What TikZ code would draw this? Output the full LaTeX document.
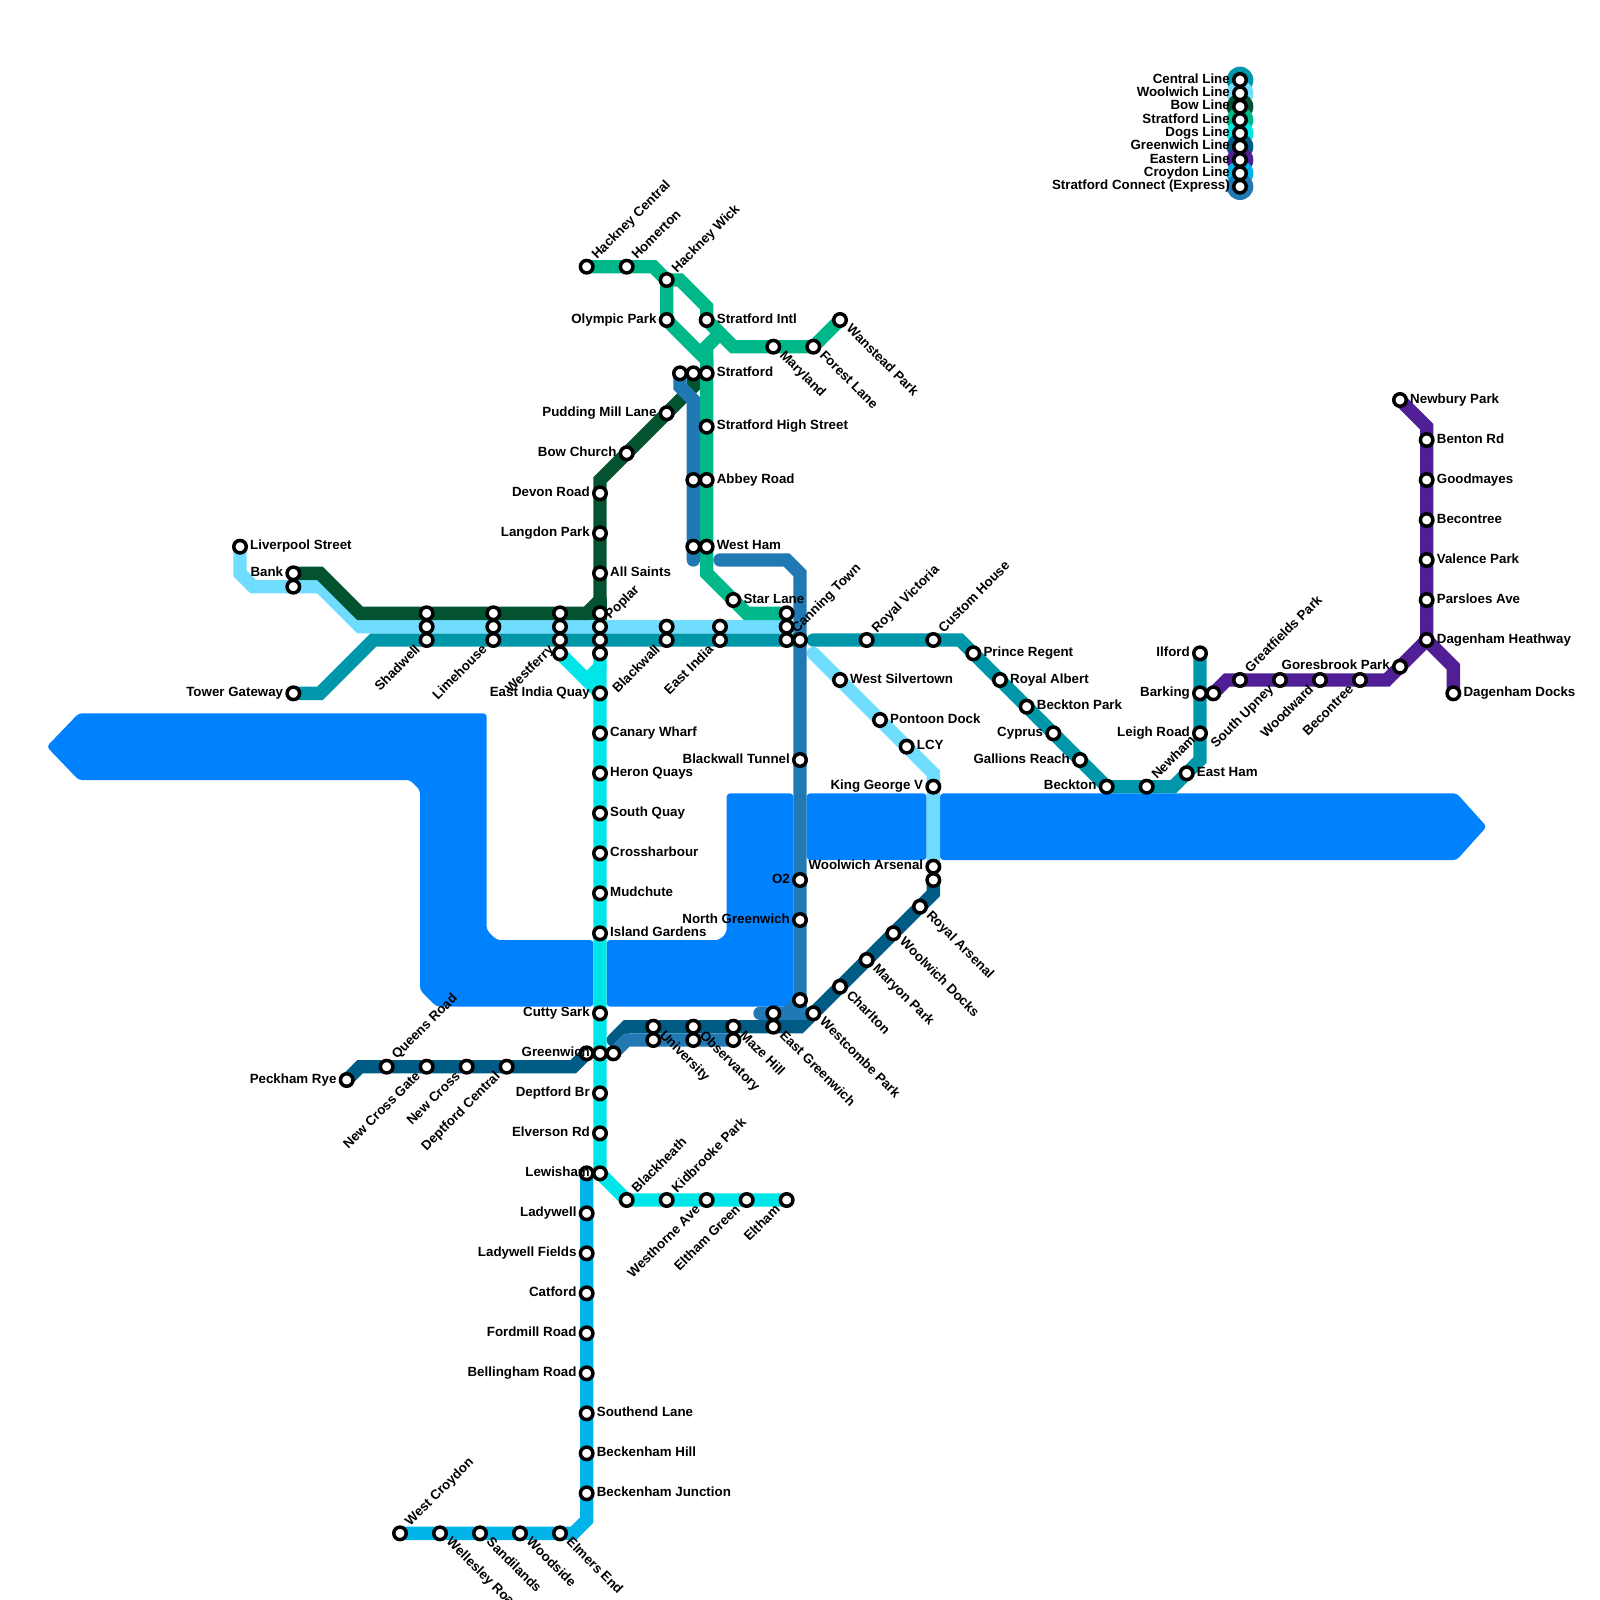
\documentclass[tikz,border=0pt]{standalone}
\usepackage{fontspec}
\setmainfont{Liberation Sans}
\pgfdeclarelayer{lines}
\pgfdeclarelayer{labels}
\pgfsetlayers{lines,main,labels}
\definecolor{MapRiver}{HTML}{0082FF}
\definecolor{MapCentral}{HTML}{0097AB}
\definecolor{MapWoolwich}{HTML}{70DDFF}
\definecolor{MapBow}{HTML}{035331}
\definecolor{MapStratford}{HTML}{00B88A}
\definecolor{MapDogs}{HTML}{00E6E8}
\definecolor{MapGreenwich}{HTML}{005B85}
\definecolor{MapEastern}{HTML}{501F96}
\definecolor{MapCroydon}{HTML}{00B4E9}
\definecolor{MapConnect}{HTML}{2179B4}
\tikzset{
  river/.style={fill=MapRiver,rounded corners=3.5pt},
  route/.style={line width=13.33pt,line cap=round},
  stn/.style={circle,draw=black,fill=white,line width=3.5pt,minimum size=12.5pt,inner sep=0pt,outer sep=0pt},
  lgdot/.style={circle,minimum size=26.67pt,inner sep=0pt,outer sep=0pt},
  lbl/.style={text=black,inner sep=0pt,text height=10pt,text depth=3.4pt,font=\fontsize{13.33}{15}\selectfont\bfseries},
  lblright/.style={lbl,anchor=west,xshift=10pt},
  lblleft/.style={lbl,anchor=east,xshift=-10pt},
  lblne/.style={lbl,xshift=8pt,yshift=9pt,anchor=west,rotate=45},
  lblse/.style={lbl,xshift=8pt,yshift=-7pt,anchor=west,rotate=-45},
  lblsw/.style={lbl,xshift=-8pt,yshift=-8pt,anchor=east,rotate=45},
}
\begin{document}
\begin{tikzpicture}[x=13.3333pt,y=-13.3333pt]
    \useasboundingbox (0,0) rectangle (120,120);
    % Stations with a printed name.
    \foreach \n/\x/\y/\st/\tx in {
      liverpool/18/41/lblright/Liverpool Street,bank/22/43/lblleft/Bank,
      gateway/22/52/lblleft/Tower Gateway,shadwell/32/48/lblsw/Shadwell,
      limehouse/37/48/lblsw/Limehouse,westferry/42/48/lblsw/Westferry,
      poplar/45/47/lblne/Poplar,blackwall/50/48/lblsw/Blackwall,
      eastindia/54/48/lblsw/East India,canning/59/48/lblne/Canning Town,
      rvictoria/65/48/lblne/Royal Victoria,custom/70/48/lblne/Custom House,
      prince/73/49/lblright/Prince Regent,ralbert/75/51/lblright/Royal Albert,
      beckpark/77/53/lblright/Beckton Park,cyprus/79/55/lblleft/Cyprus,
      gallions/81/57/lblleft/Gallions Reach,beckton/83/59/lblleft/Beckton,
      newham/86/59/lblne/Newham,eastham/89/58/lblright/East Ham,
      leigh/90/55/lblleft/Leigh Road,barking/90/52/lblleft/Barking,
      ilford/90/49/lblleft/Ilford,silvertown/63/51/lblright/West Silvertown,
      pontoon/66/54/lblright/Pontoon Dock,lcy/68/56/lblright/LCY,
      kinggeorge/70/59/lblleft/King George V,arsenal/70/65/lblleft/Woolwich Arsenal,
      allsaints/45/43/lblright/All Saints,langdon/45/40/lblleft/Langdon Park,
      devon/45/37/lblleft/Devon Road,bowchurch/47/34/lblleft/Bow Church,
      pudding/50/31/lblleft/Pudding Mill Lane,hcentral/44/20/lblne/Hackney Central,
      homerton/47/20/lblne/Homerton,hwick/50/21/lblne/Hackney Wick,
      olympic/50/24/lblleft/Olympic Park,intl/53/24/lblright/Stratford Intl,
      maryland/58/26/lblse/Maryland,forest/61/26/lblse/Forest Lane,
      wanstead/63/24/lblse/Wanstead Park,stratford/53/28/lblright/Stratford,
      highst/53/32/lblright/Stratford High Street,abbey/53/36/lblright/Abbey Road,
      westham/53/41/lblright/West Ham,starlane/55/45/lblright/Star Lane,
      quay/45/52/lblleft/East India Quay,canary/45/55/lblright/Canary Wharf,
      heron/45/58/lblright/Heron Quays,southquay/45/61/lblright/South Quay,
      crossh/45/64/lblright/Crossharbour,mudchute/45/67/lblright/Mudchute,
      island/45/70/lblright/Island Gardens,cutty/45/76/lblleft/Cutty Sark,
      greenwich/45/79/lblleft/Greenwich,deptford/45/82/lblleft/Deptford Br,
      elverson/45/85/lblleft/Elverson Rd,lewisham/45/88/lblleft/Lewisham,
      blackheath/47/90/lblne/Blackheath,kidbrooke/50/90/lblne/Kidbrooke Park,
      westhorne/53/90/lblsw/Westhorne Ave,elthamg/56/90/lblsw/Eltham Green,
      eltham/59/90/lblsw/Eltham,peckham/26/81/lblleft/Peckham Rye,
      queens/29/80/lblne/Queens Road,crossgate/32/80/lblsw/New Cross Gate,
      newcross/35/80/lblsw/New Cross,central/38/80/lblsw/Deptford Central,
      university/49/77/lblse/University,observatory/52/77/lblse/Observatory,
      mazehill/55/77/lblse/Maze Hill,egreenwich/58/77/lblse/East Greenwich,
      westcombe/61/76/lblse/Westcombe Park,charlton/63/74/lblse/Charlton,
      maryon/65/72/lblse/Maryon Park,wdocks/67/70/lblse/Woolwich Docks,
      rarsenal/69/68/lblse/Royal Arsenal,tunnel/60/57/lblleft/Blackwall Tunnel,
      otwo/60/66/lblleft/O2,ngreenwich/60/69/lblleft/North Greenwich,
      greatfields/93/51/lblne/Greatfields Park,upney/96/51/lblsw/South Upney,
      woodward/99/51/lblsw/Woodward,becontrees/102/51/lblsw/Becontree,
      goresbrook/105/50/lblleft/Goresbrook Park,heathway/107/48/lblright/Dagenham Heathway,
      parsloes/107/45/lblright/Parsloes Ave,valence/107/42/lblright/Valence Park,
      becontreen/107/39/lblright/Becontree,goodmayes/107/36/lblright/Goodmayes,
      benton/107/33/lblright/Benton Rd,newbury/105/30/lblright/Newbury Park,
      docks/109/52/lblright/Dagenham Docks,ladywell/44/91/lblleft/Ladywell,
      lfields/44/94/lblleft/Ladywell Fields,catford/44/97/lblleft/Catford,
      fordmill/44/100/lblleft/Fordmill Road,bellingham/44/103/lblleft/Bellingham Road,
      southend/44/106/lblright/Southend Lane,beckhill/44/109/lblright/Beckenham Hill,
      beckjunction/44/112/lblright/Beckenham Junction,elmers/42/115/lblse/Elmers End,
      woodside/39/115/lblse/Woodside,sandilands/36/115/lblse/Sandilands,
      wellesley/33/115/lblse/Wellesley Road,wcroydon/30/115/lblne/West Croydon}{
      \node[stn] (\n) at (\x,\y) {};
      \begin{pgfonlayer}{labels}
        \node[\st] (\n-l) at (\x,\y) {\tx};
      \end{pgfonlayer}
    }
    % Second and third rings of the shared stops.
    \foreach \n/\x/\y in {bank2/22/44,shadwell2/32/47,shadwell3/32/46,limehouse2/37/47,
      limehouse3/37/46,westferry2/42/47,westferry3/42/46,westferry4/42/49,poplar2/45/46,
      poplar3/45/48,poplar4/45/49,blackwall2/50/47,eastindia2/54/47,canning2/59/47,
      canning3/59/46,canning4/60/48,arsenal2/70/66,barking2/91/52,stratford2/52/28,
      stratford3/51/28,abbey2/52/36,westham2/52/41,greenwich2/44/79,greenwich3/46/79,
      lewisham2/44/88,university2/49/78,observatory2/52/78,mazehill2/55/78,
      egreenwich2/58/76,connectend/60/75}{
      \node[stn] (\n) at (\x,\y) {};
    }
    % Bends.
    \foreach \n/\x/\y in {ca1/24/52,ca2/28/48,ca3/61/48,ca4/72/48,ca5/88/59,ca6/90/57,
      wo1/18/43,wo2/19/44,wo3/24/44,wo4/27/47,wo5/61/49,wo6/70/58,
      bo1/24/43,bo2/27/46,bo3/44/46,bo4/45/45,bo5/45/36,bo6/52/29,
      sf1/49/20,sf2/53/27,sf3/51/21,sf4/53/23,sf5/55/26,sf6/54/25,sf7/53/26,sf8/53/43,sf9/56/46,
      do1/44/51,do2/45/50,gr1/27/80,gr2/43/80,gr3/46/78,gr4/47/77,gr5/60/77,gr6/70/67,
      ea1/92/51,ea2/104/51,ea3/107/32,ea4/109/50,cr1/44/114,cr2/43/115,
      co1/51/29,co2/52/30,co3/52/42,co4/54/42,co5/59/42,co6/60/43,co7/59/76,co8/57/76,co9/60/76,co10/47/78}{
      \coordinate (\n) at (\x,\y);
    }

    \begin{pgfonlayer}{lines}
    % The river, cut into blocks where the lines cross it.
    \fill[river] (3.5,56) -- (5.9,53.5) -- (36.5,53.5) -- (36.5,69.75) -- (37.25,70.5) -- (44.5,70.5)
      -- (44.5,75.5) -- (32.75,75.5) -- (31.5,74.25) -- (31.5,59.25) -- (30.75,58.5) -- (5.9,58.5) -- cycle;
    \fill[river] (45.5,70.5) -- (53.95,70.5) -- (54.5,69.95) -- (54.5,59.5) -- (59.5,59.5)
      -- (59.5,75.5) -- (45.5,75.5) -- cycle;
    \fill[river] (60.5,59.5) rectangle (69.5,64.5);
    \fill[river] (70.5,59.5) -- (109.25,59.5) -- (111.5,62) -- (109.25,64.5) -- (70.5,64.5) -- cycle;

    \draw[route,MapCentral] (gateway.center) -- (ca1) -- (ca2) -- (shadwell.center) -- (limehouse.center)
      -- (westferry.center) -- (poplar3.center) -- (blackwall.center) -- (eastindia.center) -- (canning.center)
      -- (canning4.center);
    \draw[route,MapCentral] (ca3) -- (rvictoria.center) -- (custom.center) -- (ca4) -- (prince.center)
      -- (ralbert.center) -- (beckpark.center) -- (cyprus.center) -- (gallions.center) -- (beckton.center)
      -- (newham.center) -- (ca5) -- (eastham.center) -- (ca6) -- (leigh.center) -- (barking.center) -- (ilford.center);

    \draw[route,MapWoolwich] (liverpool.center) -- (wo1) -- (wo2) -- (bank2.center) -- (wo3) -- (wo4)
      -- (shadwell2.center) -- (limehouse2.center) -- (westferry2.center) -- (poplar.center)
      -- (blackwall2.center) -- (eastindia2.center) -- (canning2.center);
    \draw[route,MapWoolwich] (wo5) -- (silvertown.center) -- (pontoon.center) -- (lcy.center) -- (wo6)
      -- (kinggeorge.center) -- (arsenal.center);

    \draw[route,MapBow] (bank.center) -- (bo1) -- (bo2) -- (shadwell3.center) -- (limehouse3.center)
      -- (westferry3.center) -- (bo3) -- (bo4) -- (allsaints.center) -- (langdon.center) -- (devon.center)
      -- (bo5) -- (bowchurch.center) -- (pudding.center) -- (bo6) -- (stratford2.center);
    \draw[route,MapBow] (bo3) -- (poplar2.center) -- (bo4);

    \draw[route,MapStratford] (hcentral.center) -- (homerton.center) -- (sf1) -- (hwick.center)
      -- (olympic.center) -- (sf2) -- (stratford.center) -- (highst.center) -- (abbey.center)
      -- (westham.center) -- (sf8) -- (starlane.center) -- (sf9) -- (canning3.center);
    \draw[route,MapStratford] (hwick.center) -- (sf3) -- (sf4) -- (intl.center) -- (sf5) -- (maryland.center)
      -- (forest.center) -- (wanstead.center);
    \draw[route,MapStratford] (sf6) -- (sf7) -- (stratford.center);

    \draw[route,MapDogs] (westferry4.center) -- (quay.center);
    \draw[route,MapDogs] (do1) -- (do2);
    \draw[route,MapDogs] (poplar4.center) -- (quay.center) -- (canary.center) -- (heron.center)
      -- (southquay.center) -- (crossh.center) -- (mudchute.center) -- (island.center) -- (cutty.center)
      -- (greenwich.center) -- (deptford.center) -- (elverson.center) -- (lewisham.center)
      -- (blackheath.center) -- (kidbrooke.center) -- (westhorne.center) -- (elthamg.center) -- (eltham.center);

    \draw[route,MapGreenwich] (peckham.center) -- (gr1) -- (queens.center) -- (crossgate.center)
      -- (newcross.center) -- (central.center) -- (gr2) -- (greenwich2.center);
    \draw[route,MapGreenwich] (gr3) -- (gr4) -- (university.center) -- (observatory.center) -- (mazehill.center)
      -- (egreenwich.center) -- (gr5) -- (westcombe.center) -- (charlton.center) -- (maryon.center)
      -- (wdocks.center) -- (rarsenal.center) -- (gr6) -- (arsenal2.center);

    \draw[route,MapEastern] (barking2.center) -- (ea1) -- (greatfields.center) -- (upney.center)
      -- (woodward.center) -- (becontrees.center) -- (ea2) -- (goresbrook.center) -- (heathway.center)
      -- (parsloes.center) -- (valence.center) -- (becontreen.center) -- (goodmayes.center)
      -- (benton.center) -- (ea3) -- (newbury.center);
    \draw[route,MapEastern] (heathway.center) -- (ea4) -- (docks.center);

    \draw[route,MapCroydon] (lewisham2.center) -- (ladywell.center) -- (lfields.center)
      -- (catford.center) -- (fordmill.center) -- (bellingham.center) -- (southend.center) -- (beckhill.center)
      -- (beckjunction.center) -- (cr1) -- (cr2) -- (elmers.center) -- (woodside.center)
      -- (sandilands.center) -- (wellesley.center) -- (wcroydon.center);

    \draw[route,MapConnect] (stratford3.center) -- (co1) -- (co2) -- (abbey2.center) -- (westham2.center) -- (co3);
    \draw[route,MapConnect] (co4) -- (co5) -- (co6) -- (canning4.center) -- (tunnel.center) -- (otwo.center)
      -- (ngreenwich.center) -- (connectend.center) -- (co7) -- (egreenwich2.center) -- (co8);
    \draw[route,MapConnect] (co7) -- (co9) -- (connectend.center);
    \draw[route,MapConnect] (greenwich3.center) -- (co10) -- (university2.center) -- (observatory2.center)
      -- (mazehill2.center);
    \end{pgfonlayer}

    % Key: one dot per line, later dots over earlier ones.
    \foreach \n/\y/\col/\tx in {keycentral/6/MapCentral/Central Line,keywoolwich/7/MapWoolwich/Woolwich Line,
      keybow/8/MapBow/Bow Line,keystratford/9/MapStratford/Stratford Line,keydogs/10/MapDogs/Dogs Line,
      keygreenwich/11/MapGreenwich/Greenwich Line,keyeastern/12/MapEastern/Eastern Line,
      keycroydon/13/MapCroydon/Croydon Line,keyconnect/14/MapConnect/Stratford Connect (Express)}{
      \begin{pgfonlayer}{lines}
        \node[lgdot,fill=\col] (\n-d) at (93,\y) {};
      \end{pgfonlayer}
      \node[stn] (\n) at (93,\y) {};
      \begin{pgfonlayer}{labels}
        \node[lblleft] (\n-l) at (93,\y) {\tx};
      \end{pgfonlayer}
    }
  \end{tikzpicture}
\end{document}
